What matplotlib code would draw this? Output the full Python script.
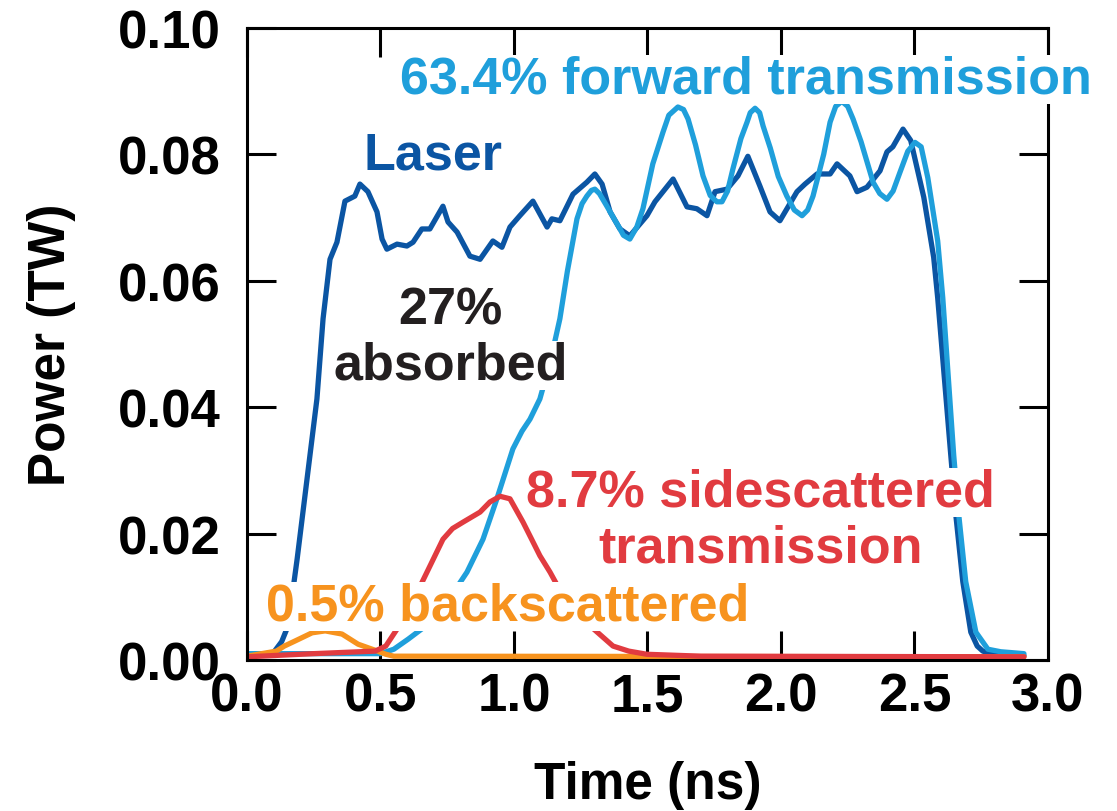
import matplotlib
matplotlib.use("Agg")
import matplotlib.pyplot as plt

plt.rcParams['font.family'] = ['Liberation Sans', 'DejaVu Sans']
plt.rcParams['font.weight'] = 'bold'

# ---- data (time in ns, power in TW) ----
laser_t = [0.0, 0.10, 0.13, 0.154, 0.188, 0.262, 0.285, 0.311, 0.337, 0.367, 0.404, 0.423,
           0.453, 0.487, 0.506, 0.524, 0.562, 0.599, 0.622, 0.655, 0.685, 0.734, 0.753,
           0.787, 0.835, 0.873, 0.921, 0.955, 0.985, 1.022, 1.071, 1.124, 1.142, 1.172,
           1.221, 1.273, 1.303, 1.330, 1.360, 1.397, 1.434, 1.498, 1.528, 1.596, 1.648,
           1.685, 1.723, 1.753, 1.798, 1.839, 1.876, 1.921, 1.959, 1.996, 2.060, 2.090,
           2.135, 2.184, 2.210, 2.258, 2.285, 2.322, 2.371, 2.397, 2.419, 2.457, 2.486,
           2.535, 2.572, 2.587, 2.636, 2.655, 2.681, 2.711, 2.735, 2.756, 2.80, 2.91]
laser_p = [0.0005, 0.0012, 0.0029, 0.0054, 0.016, 0.0413, 0.054, 0.0634, 0.0661, 0.0726,
           0.0734, 0.0753, 0.0741, 0.0709, 0.0666, 0.0650, 0.0658, 0.0655, 0.0661, 0.0682,
           0.0682, 0.0718, 0.0693, 0.0677, 0.0639, 0.0634, 0.0663, 0.0653, 0.0685, 0.0703,
           0.0726, 0.0685, 0.0698, 0.0695, 0.0737, 0.0756, 0.0769, 0.0753, 0.0709, 0.0682,
           0.0671, 0.0703, 0.0725, 0.0761, 0.0717, 0.0714, 0.0703, 0.0741, 0.0745, 0.0766,
           0.0797, 0.0750, 0.0709, 0.0695, 0.0741, 0.0753, 0.0769, 0.0769, 0.0785, 0.0766,
           0.0741, 0.0748, 0.0774, 0.0804, 0.0812, 0.0840, 0.0822, 0.0732, 0.0637, 0.0573,
           0.0324, 0.0229, 0.0124, 0.0044, 0.0022, 0.0014, 0.0008, 0.0007]

fwd_t = [0.0, 0.50, 0.55, 0.604, 0.67, 0.75, 0.824, 0.884, 0.936, 0.996, 1.03, 1.060,
         1.097, 1.135, 1.172, 1.20, 1.236, 1.255, 1.273, 1.29, 1.303, 1.32, 1.348, 1.397,
         1.41, 1.434, 1.46, 1.483, 1.52, 1.558, 1.58, 1.614, 1.635, 1.652, 1.68, 1.708,
         1.735, 1.760, 1.779, 1.80, 1.820, 1.85, 1.873, 1.885, 1.903, 1.92, 1.933, 1.96,
         1.99, 2.022, 2.05, 2.079, 2.10, 2.120, 2.16, 2.184, 2.205, 2.228, 2.25, 2.270,
         2.30, 2.345, 2.37, 2.397, 2.42, 2.446, 2.475, 2.502, 2.525, 2.55, 2.587, 2.606,
         2.647, 2.666, 2.692, 2.73, 2.775, 2.823, 2.91]
fwd_p = [0.0010, 0.0010, 0.0017, 0.0033, 0.0054, 0.0092, 0.0139, 0.0191, 0.0255, 0.0334,
         0.0362, 0.0381, 0.0413, 0.0470, 0.0540, 0.0615, 0.0698, 0.0722, 0.0734, 0.0743,
         0.0745, 0.0738, 0.0718, 0.0682, 0.0672, 0.0666, 0.0685, 0.0714, 0.0785, 0.0835,
         0.0862, 0.0875, 0.0871, 0.0856, 0.0815, 0.0766, 0.0735, 0.0725, 0.0725, 0.0742,
         0.0777, 0.0825, 0.0851, 0.0866, 0.0873, 0.0866, 0.0845, 0.0810, 0.0765, 0.0734,
         0.0712, 0.0703, 0.0712, 0.0734, 0.0800, 0.0851, 0.0876, 0.0884, 0.0876, 0.0856,
         0.0820, 0.0756, 0.0738, 0.0729, 0.0742, 0.0772, 0.0805, 0.0819, 0.0812, 0.0763,
         0.0663, 0.0573, 0.0324, 0.0229, 0.0124, 0.0044, 0.0017, 0.0013, 0.0010]

back_t = [0.0, 0.11, 0.14, 0.18, 0.244, 0.293, 0.356, 0.416, 0.469, 0.49, 0.52, 0.55, 2.91]
back_p = [0.0006, 0.0014, 0.0022, 0.0030, 0.0043, 0.0046, 0.0041, 0.0025, 0.0017, 0.0014,
          0.0009, 0.0006, 0.0005]

side_t = [0.0, 0.25, 0.48, 0.52, 0.57, 0.62, 0.68, 0.734, 0.77, 0.809, 0.873, 0.910, 0.948,
          0.985, 1.034, 1.065, 1.097, 1.135, 1.17, 1.21, 1.285, 1.371, 1.43, 1.498, 1.70, 2.91]
side_p = [0.0005, 0.0010, 0.0014, 0.0022, 0.0054, 0.0092, 0.0144, 0.0191, 0.0208, 0.0218,
          0.0234, 0.0250, 0.0259, 0.0255, 0.0218, 0.0192, 0.0165, 0.0139, 0.0112, 0.0085,
          0.0054, 0.0022, 0.0014, 0.0009, 0.0006, 0.0005]

x_ticks = [0.0, 0.5, 1.0, 1.5, 2.0, 2.5, 3.0]
y_ticks = [0.00, 0.02, 0.04, 0.06, 0.08, 0.10]

c_laser = '#0b55a3'
c_fwd = '#1f9fdb'
c_side = '#e13b40'
c_back = '#f7931e'
c_text = '#231f20'

fig = plt.figure(figsize=(11.17, 8.12), dpi=100)
ax = fig.add_axes([0.2211, 0.1860, 0.7171, 0.7783])

lw = 3.8
style = dict(lw=lw, solid_joinstyle='round', solid_capstyle='round')
ax.plot(laser_t, laser_p, color=c_laser, zorder=2, **style)
ax.plot(fwd_t, fwd_p, color=c_fwd, zorder=2.1, **style)
ax.plot(back_t, back_p, color=c_back, zorder=2.2, **style)
ax.plot(side_t, side_p, color=c_side, zorder=2.3, **style)

ax.set_xlim(0, 3.0)
ax.set_ylim(0, 0.10)
ax.set_xticks(x_ticks)
ax.set_xticklabels([f"{v:.1f}" for v in x_ticks])
ax.set_yticks(y_ticks)
ax.set_yticklabels([f"{v:.2f}" for v in y_ticks])

for s in ax.spines.values():
    s.set_linewidth(2.2)
ax.tick_params(axis='both', which='major', direction='in', length=21, width=2.2,
               top=True, right=True, labelsize=38)
ax.tick_params(axis='x', pad=8)
ax.tick_params(axis='y', pad=19)
for lab in ax.get_xticklabels() + ax.get_yticklabels():
    lab.set_fontweight('bold')

ax.set_xlabel('Time (ns)', fontsize=37, fontweight='bold', labelpad=28)
ax.set_ylabel('Power (TW)', fontsize=37, fontweight='bold', labelpad=30)

box = dict(facecolor='white', edgecolor='none', boxstyle='square,pad=0')
tk = dict(fontsize=37.5, fontweight='bold', zorder=5, clip_on=False, bbox=box, va='baseline')

ax.text(0.573, (661 - 94) / 6320, '63.4% forward transmission', color=c_fwd, ha='left', **tk)
ax.text(0.435, (661 - 170) / 6320, 'Laser', color=c_laser, ha='left', **tk)
ax.text(0.763, (661 - 325) / 6320, '27%', color=c_text, ha='center', **tk)
ax.text(0.763, (661 - 380) / 6320, 'absorbed', color=c_text, ha='center', **tk)
ax.text(1.923, (661 - 507) / 6320, '8.7% sidescattered', color=c_side, ha='center', **tk)
ax.text(1.923, (661 - 563) / 6320, 'transmission', color=c_side, ha='center', **tk)
ax.text(0.975, (661 - 621) / 6320, '0.5% backscattered', color=c_back, ha='center', **tk)

fig.savefig('out.png', dpi=100)
